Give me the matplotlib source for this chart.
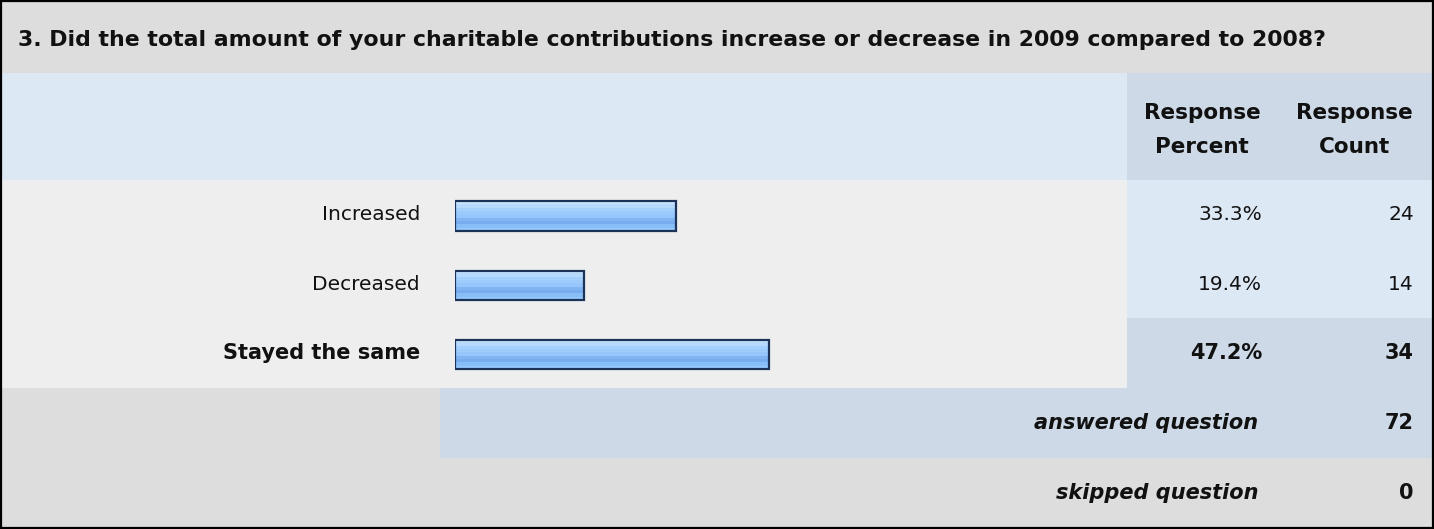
#!/usr/bin/env python3
"""Survey question 3: change in charitable contributions, 2009 vs 2008 (table-style bar chart)."""
import numpy as np
import matplotlib
matplotlib.use("Agg")
import matplotlib.pyplot as plt
from matplotlib.patches import Rectangle

plt.rcParams["font.family"] = ["DejaVu Sans"]

QUESTION = "3. Did the total amount of your charitable contributions increase or decrease in 2009 compared to 2008?"
choices = ["Increased", "Decreased", "Stayed the same"]
percents = [33.3, 19.4, 47.2]
counts = [24, 14, 34]
answered = 72
skipped = 0

W, H = 1434, 529
GREY, LIGHT, PALE, BLUE = "#dddddd", "#eeeeee", "#dde8f5", "#cdd9e6"
NAVY = "#1b3358"
INK = "#111111"
GRAD = ["#cde6fe", "#b6dafe", "#a4d0fd", "#9ccbfc", "#96c6fb", "#80b5f2",
        "#77adee", "#87bef8", "#95c9fc"]
FS, FSB = 14.5, 15.0

fig = plt.figure(figsize=(W / 100, H / 100), dpi=100)
bg = fig.add_axes([0, 0, 1, 1])
bg.set_xlim(0, W); bg.set_ylim(H, 0); bg.axis("off")


def box(x0, y0, x1, y1, c):
    bg.add_patch(Rectangle((x0, y0), x1 - x0, y1 - y0, facecolor=c, edgecolor="none", zorder=0))


# table background blocks
box(0, 0, W, 73, GREY)
box(0, 73, 1127, 180, PALE); box(1127, 73, W, 180, BLUE)
box(0, 180, 1127, 388, LIGHT)
row_top = [180, 249, 318]
best = int(np.argmax(percents))
for i, t in enumerate(row_top):
    box(1127, t, W, t + 70, BLUE if i == best else PALE)
box(0, 388, 440, 458, GREY); box(440, 388, W, 458, BLUE)
box(0, 458, W, H, GREY)
bg.add_patch(Rectangle((1, 1), W - 2, H - 2, facecolor="none", edgecolor="black", lw=1.6, zorder=5))

bg.text(18, 40, QUESTION, fontsize=15.8, weight="bold", va="center", ha="left", color=INK)
for x, lab in ((1202, "Response\nPercent"), (1354, "Response\nCount")):
    bg.text(x, 130, lab, fontsize=15.5, weight="bold", ha="center", va="center", linespacing=1.85, color=INK)

ymid = [215, 284, 353]
for i, (c, p, n) in enumerate(zip(choices, percents, counts)):
    kw = dict(fontsize=FSB, weight="bold") if i == best else dict(fontsize=FS)
    bg.text(420, ymid[i], c, ha="right", va="center", color=INK, **kw)
    bg.text(1262, ymid[i], f"{p:.1f}%", ha="right", va="center", color=INK, **kw)
    bg.text(1414, ymid[i], f"{n}", ha="right", va="center", color=INK, **kw)

bg.text(1258, 423, "answered question", fontsize=FSB, weight="bold", style="italic", ha="right", va="center", color=INK)
bg.text(1414, 423, f"{answered}", fontsize=FSB, weight="bold", ha="right", va="center", color=INK)
bg.text(1258, 493, "skipped question", fontsize=FSB, weight="bold", style="italic", ha="right", va="center", color=INK)
bg.text(1414, 493, f"{skipped}", fontsize=FSB, weight="bold", ha="right", va="center", color=INK)

# bar axes: x in percent (0-100 spans the bar column), one row per choice
ax = fig.add_axes([455 / W, (H - 388) / H, (1120 - 455) / W, 208 / H])
ax.set_xlim(0, 100); ax.set_ylim(2.5, -0.5); ax.axis("off")
ypos = np.arange(len(choices)) + 0.02
bh = 0.42
bars = ax.barh(ypos, percents, height=bh, facecolor="none", edgecolor=NAVY, lw=1.6, zorder=3)
grad = matplotlib.colors.to_rgba_array(GRAD)[:, None, :]
for b, y, p in zip(bars, ypos, percents):
    im = ax.imshow(grad, extent=(0, p, y + bh / 2, y - bh / 2), aspect="auto",
                   interpolation="nearest", zorder=2)
    im.set_clip_path(b)
ax.set_xlim(0, 100); ax.set_ylim(2.5, -0.5)

fig.savefig("out.png", dpi=100)
